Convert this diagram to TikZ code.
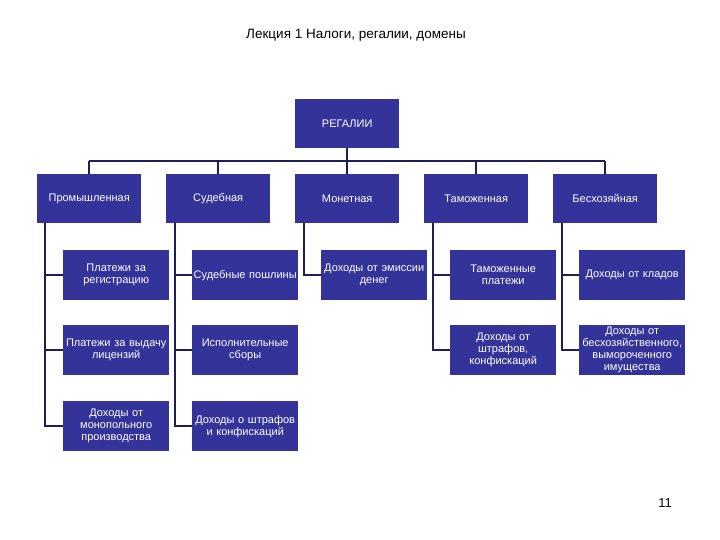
\documentclass[tikz,border=0pt]{standalone}
\usepackage{fontspec}
\setmainfont{Liberation Sans}
\definecolor{boxblue}{RGB}{51,51,153}
\definecolor{linenavy}{RGB}{30,30,90}
\begin{document}
\begin{tikzpicture}[x=1pt,y=-1pt,
  box/.style={fill=boxblue,text=white,anchor=north west,inner sep=0pt,
    minimum width=104pt,minimum height=49pt,text width=104pt,align=center,
    font=\fontsize{11}{12}\selectfont},
  wbox/.style={box,minimum width=106pt,text width=106pt,minimum height=50pt},
  conn/.style={draw=linenavy,line width=1.6pt}]
\useasboundingbox (0,0) rectangle (720,540);
\node[font=\fontsize{13.5}{15}\selectfont] (title) at (356,35) {Лекция 1 Налоги, регалии, домены};
\node[font=\fontsize{13}{15}\selectfont] (pnum) at (665,503) {11};

\node[box] (reg) at (295,99) {РЕГАЛИИ};
\node[box] (p1) at (37,174) {Промышленная};
\node[box] (p2) at (166,174) {Судебная};
\node[box] (p3) at (295,174) {Монетная};
\node[box] (p4) at (424,174) {Таможенная};
\node[box] (p5) at (553,174) {Бесхозяйная};

\node[wbox] (c11) at (63,250) {Платежи за\\регистрацию};
\node[wbox] (c12) at (63,325) {Платежи за выдачу\\лицензий};
\node[wbox] (c13) at (63,401) {Доходы от\\монопольного\\производства};
\node[wbox] (c21) at (192,250) {Судебные пошлины};
\node[wbox] (c22) at (192,325) {Исполнительные\\сборы};
\node[wbox] (c23) at (192,401) {Доходы о штрафов\\и конфискаций};
\node[wbox] (c31) at (321,250) {Доходы от эмиссии\\денег};
\node[wbox] (c41) at (450,250) {Таможенные\\платежи};
\node[wbox] (c42) at (450,325) {Доходы от\\штрафов,\\конфискаций};
\node[wbox] (c51) at (579,250) {Доходы от кладов};
\node[wbox] (c52) at (579,325) {Доходы от\\бесхозяйственного,\\вымороченного\\имущества};

\coordinate (bus) at (0,161);
\draw[conn] (reg.south) -- (reg.south |- bus);
\draw[conn] (p1.north |- bus) -- (p5.north |- bus);
\foreach \p in {p1,p2,p3,p4,p5} {\draw[conn] (\p.north) -- (\p.north |- bus);}

\coordinate (v1) at ([xshift=8pt]p1.south west);
\coordinate (v2) at ([xshift=9pt]p2.south west);
\coordinate (v3) at ([xshift=9pt]p3.south west);
\coordinate (v4) at ([xshift=9pt]p4.south west);
\coordinate (v5) at ([xshift=9pt]p5.south west);
\draw[conn] (v1) |- (c13.west);
\draw[conn] (v1 |- c11.west) -- (c11.west);
\draw[conn] (v1 |- c12.west) -- (c12.west);
\draw[conn] (v2) |- (c23.west);
\draw[conn] (v2 |- c21.west) -- (c21.west);
\draw[conn] (v2 |- c22.west) -- (c22.west);
\draw[conn] (v3) |- (c31.west);
\draw[conn] (v4) |- (c42.west);
\draw[conn] (v4 |- c41.west) -- (c41.west);
\draw[conn] (v5) |- (c52.west);
\draw[conn] (v5 |- c51.west) -- (c51.west);
\end{tikzpicture}
\end{document}
